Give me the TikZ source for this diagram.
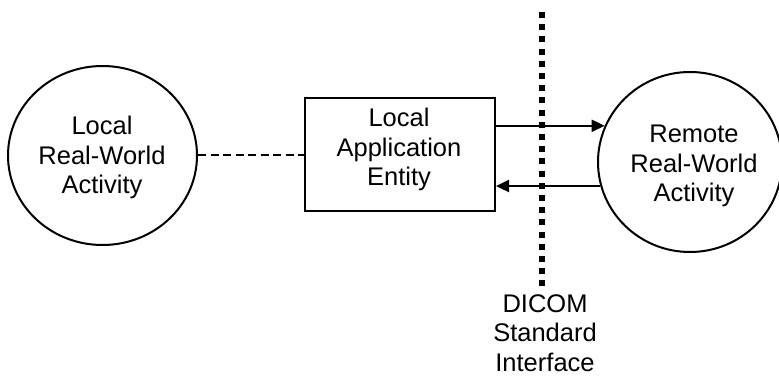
\documentclass[tikz,border=0pt]{standalone}
\usepackage{fontspec}
\setmainfont{Liberation Sans}
\usetikzlibrary{shapes.geometric,arrows.meta}
\begin{document}
\begin{tikzpicture}[x=1pt,y=-1pt,
  shp/.style={draw=black,line width=2pt,inner sep=0pt},
  txt/.style={align=center,inner sep=0pt,font=\fontsize{25.5}{29.5}\selectfont},
  arr/.style={line width=2pt,-{Triangle[length=13pt,width=12pt]}},
  dashline/.style={line width=2pt,dash pattern=on 8pt off 4.5pt},
  dotline/.style={line width=6pt,dash pattern=on 6pt off 6.2pt}]
\useasboundingbox (0,0) rectangle (779,377);
\node[shp,ellipse,minimum width=189pt,minimum height=179pt] (local) at (102.5,155.5) {};
\node[shp,rectangle,minimum width=190pt,minimum height=113pt] (box) at (400,154.5) {};
\node[shp,ellipse,minimum width=184pt,minimum height=180pt] (remote) at (690,162) {};
\node[txt] (localtext) at (102,157.9) {Local\\Real-World\\Activity};
\node[txt] (boxtext) at (399,149.9) {Local\\Application\\Entity};
\node[txt] (remotetext) at (694,165.9) {Remote\\Real-World\\Activity};
\node[txt] (dicomtext) at (545,333) {DICOM\\Standard\\Interface};
\coordinate (dtop) at (542,12);
\coordinate (dbot) at (542,286);
\draw[dotline] (dtop) -- (dbot);
\draw[dashline] (local.east) -- (local.east -| box.west);
\draw[arr] (box.east |- remote.157.8) -- (remote.157.8);
\draw[arr] (remote.195.5) -- (box.east |- remote.195.5);
\end{tikzpicture}
\end{document}
